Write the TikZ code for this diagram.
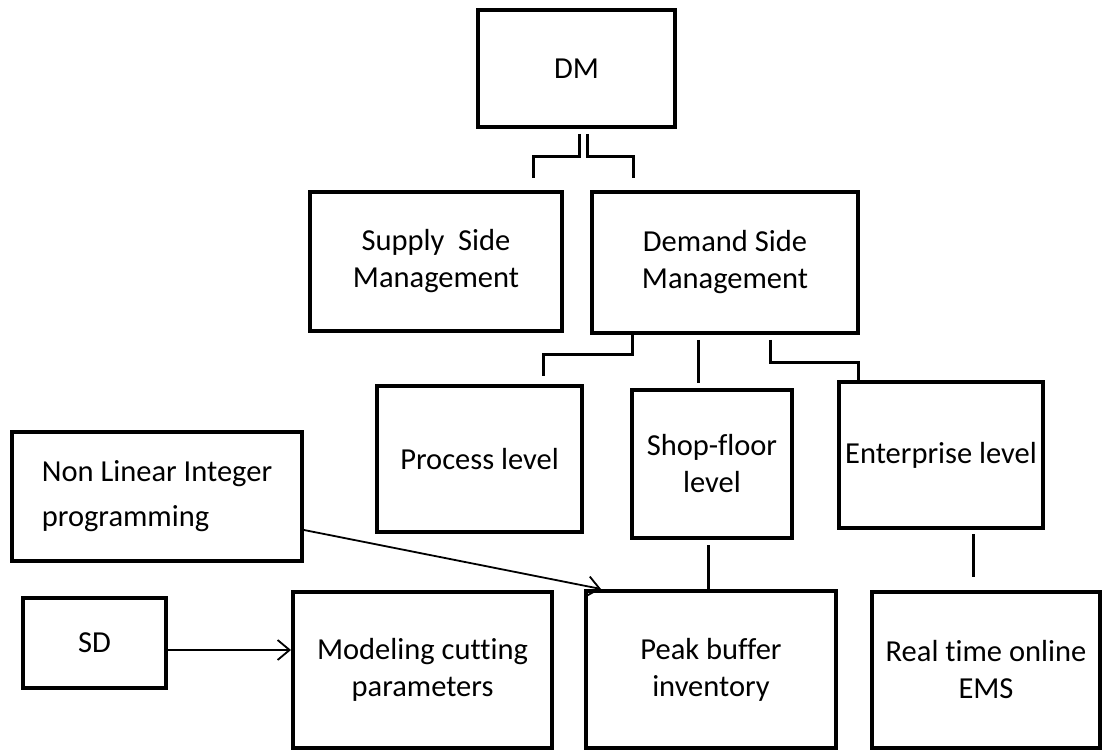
\documentclass[tikz,border=0pt]{standalone}
\usepackage{fontspec}
\setmainfont[Ligatures=NoCommon]{Carlito}
\usetikzlibrary{arrows.meta}
\begin{document}
\begin{tikzpicture}[x=1pt,y=-1pt,
  box/.style={draw, line width=4pt, rectangle, inner sep=0pt, align=center, font=\fontsize{30.5}{37}\selectfont},
  conn/.style={line width=3pt},
  arr/.style={line width=1.8pt, -{Straight Barb[length=12pt,width=20pt]}}]
\useasboundingbox (0,0) rectangle (1104,751);
\node[box, minimum width=197pt, minimum height=117pt] (DM) at (576.5,68.5) {DM};
\node[box, minimum width=252pt, minimum height=139pt] (Supply) at (436,261.5) {Supply\ \ Side\\Management};
\node[box, minimum width=266pt, minimum height=141pt] (Demand) at (725,262.5) {Demand Side\\Management};
\node[box, minimum width=205pt, minimum height=146pt] (Process) at (479.5,459) {Process level};
\node[box, minimum width=160pt, minimum height=148pt] (Shop) at (712,464) {Shop-floor\\level};
\node[box, minimum width=204pt, minimum height=146pt] (Enterprise) at (941,455) {Enterprise level};
\node[box, minimum width=290pt, minimum height=129pt, align=left, font=\fontsize{30.5}{45}\selectfont] (NLIP) at (157,496.5) {Non Linear Integer\\programming};
\node[box, minimum width=143pt, minimum height=90pt] (SD) at (94.5,643) {SD};
\node[box, minimum width=259pt, minimum height=156pt] (Modeling) at (422.5,670) {Modeling cutting\\parameters};
\node[box, minimum width=250pt, minimum height=157pt] (Peak) at (711,669.5) {Peak buffer\\inventory};
\node[box, minimum width=228pt, minimum height=156pt] (Real) at (986,670) {Real time online\\EMS};

\coordinate (supT) at (533,178);
\coordinate (demT) at (633,178);
\coordinate (procT) at (543,376);
\coordinate (shopT) at (698,383);
\coordinate (realT) at (973,577);

\draw[conn] ([xshift=2.5pt,yshift=-5pt]DM.south) -- ++(0,23) -| (supT);
\draw[conn] ([xshift=10.5pt,yshift=-5pt]DM.south) -- ++(0,23) -| (demT);
\draw[conn] ([xshift=-93pt]Demand.south) -- ++(0,20) -| (procT);
\draw[conn] ([xshift=-27pt,yshift=-5pt]Demand.south) -- (shopT);
\draw[conn] ([xshift=45pt,yshift=-5pt]Demand.south) -- ++(0,23) -| ([xshift=-83pt]Enterprise.north);
\draw[conn] ([xshift=-4pt,yshift=-5pt]Shop.south) -- ([xshift=-3pt]Peak.north);
\draw[conn] ([xshift=32pt,yshift=-4pt]Enterprise.south) -- (realT);

\draw[arr] ([yshift=-33.5pt]NLIP.east) -- ([xshift=17pt]Peak.north west);
\draw[arr] ([yshift=-7pt]SD.east) -- ([yshift=20pt]Modeling.west);
\end{tikzpicture}
\end{document}
